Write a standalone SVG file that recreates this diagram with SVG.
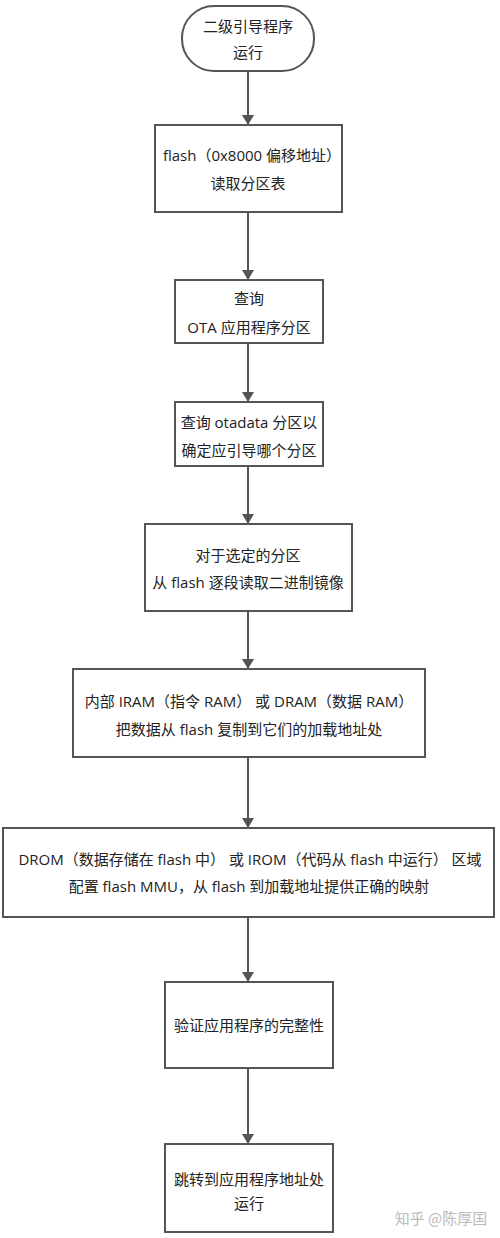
<svg xmlns="http://www.w3.org/2000/svg" width="500" height="1238" viewBox="0 0 500 1238">
<defs>
<style>
.box{fill:#fff;stroke:#555;stroke-width:2}
.t{font-family:"Open Sans","Noto Sans CJK SC",sans-serif;font-size:15px;fill:#222;text-anchor:middle;dominant-baseline:central}
.c{stroke:#555;stroke-width:2;fill:none;marker-end:url(#ah)}
.wm{font-family:"Noto Sans CJK SC",sans-serif;font-size:15px;fill:#bbb;text-anchor:middle;dominant-baseline:central}
</style>
<marker id="ah" viewBox="0 0 10 12" refX="9" refY="6" markerWidth="5" markerHeight="6" orient="auto" markerUnits="strokeWidth">
<path d="M0,0 L10,6 L0,12 z" fill="#555"/>
</marker>
</defs>
<rect width="500" height="1238" fill="#fff"/>
<g id="connectors">
<line class="c" x1="248" y1="71" x2="248" y2="124"/>
<line class="c" x1="248" y1="212" x2="248" y2="279"/>
<line class="c" x1="248" y1="343" x2="248" y2="401"/>
<line class="c" x1="248" y1="466" x2="248" y2="523"/>
<line class="c" x1="248" y1="611" x2="248" y2="668"/>
<line class="c" x1="248" y1="757" x2="248" y2="827"/>
<line class="c" x1="248" y1="917" x2="248" y2="981"/>
<line class="c" x1="248" y1="1068" x2="248" y2="1143"/>
</g>
<g id="n1">
<rect class="box" x="182" y="6" width="132" height="65" rx="32" ry="32"/>
<text class="t" x="248" y="26">二级引导程序</text>
<text class="t" x="248" y="52">运行</text>
</g>
<g id="n2">
<rect class="box" x="155" y="125" width="187" height="87"/>
<text class="t" x="252" y="155">flash（0x8000 偏移地址）</text>
<text class="t" x="248" y="183">读取分区表</text>
</g>
<g id="n3">
<rect class="box" x="175" y="280" width="148" height="63"/>
<text class="t" x="249" y="298">查询</text>
<text class="t" x="249" y="327">OTA 应用程序分区</text>
</g>
<g id="n4">
<rect class="box" x="175" y="402" width="148" height="64"/>
<text class="t" x="249" y="422">查询 otadata 分区以</text>
<text class="t" x="249" y="450">确定应引导哪个分区</text>
</g>
<g id="n5">
<rect class="box" x="145" y="524" width="207" height="87"/>
<text class="t" x="248" y="555">对于选定的分区</text>
<text class="t" x="248" y="582">从 flash 逐段读取二进制镜像</text>
</g>
<g id="n6">
<rect class="box" x="73" y="669" width="352" height="88"/>
<text class="t" x="249" y="701">内部 IRAM（指令 RAM） 或 DRAM（数据 RAM）</text>
<text class="t" x="249" y="729">把数据从 flash 复制到它们的加载地址处</text>
</g>
<g id="n7">
<rect class="box" x="3" y="828" width="491" height="89"/>
<text class="t" x="250" y="859">DROM（数据存储在 flash 中） 或 IROM（代码从 flash 中运行） 区域</text>
<text class="t" x="249" y="886">配置 flash MMU，从 flash 到加载地址提供正确的映射</text>
</g>
<g id="n8">
<rect class="box" x="165" y="982" width="168" height="86"/>
<text class="t" x="249" y="1025">验证应用程序的完整性</text>
</g>
<g id="n9">
<rect class="box" x="165" y="1144" width="168" height="88"/>
<text class="t" x="249" y="1179">跳转到应用程序地址处</text>
<text class="t" x="249" y="1203">运行</text>
</g>
<text class="wm" x="441" y="1217">知乎 @陈厚国</text>
</svg>
